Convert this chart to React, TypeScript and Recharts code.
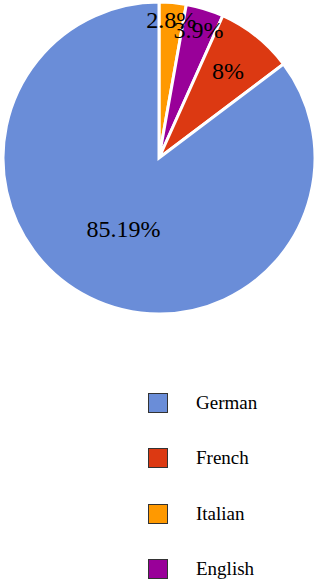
import * as React from "react";
import { PieChart, Pie, Cell } from "recharts";

// legend order
const languages = ["German", "French", "Italian", "English"];
const shares = [85.19, 8, 2.8, 3.9];
const colors = ["#6a8dd8", "#dc3912", "#ff9900", "#990099"];

// order of the wedges going clockwise from 12 o'clock
const pieOrder = ["Italian", "English", "French", "German"];

const labelDist: Record<string, number> = {
  German: 0.51,
  French: 0.71,
  Italian: 0.89,
  English: 0.86,
};

const RADIAN = Math.PI / 180;
const FONT = "'Liberation Serif', 'DejaVu Serif', serif";

const pieData = pieOrder.map((name) => {
  const i = languages.indexOf(name);
  return { name, value: shares[i], color: colors[i] };
});

function renderLabel(props: any) {
  const { cx, cy, midAngle, outerRadius, name, value } = props;
  const r = outerRadius * (labelDist[name] ?? 0.6);
  const x = cx + r * Math.cos(-midAngle * RADIAN);
  const y = cy + r * Math.sin(-midAngle * RADIAN);
  return (
    <text
      x={x}
      y={y}
      fill="#000"
      textAnchor="middle"
      dominantBaseline="central"
      fontFamily={FONT}
      fontSize={24}
    >
      {`${value}%`}
    </text>
  );
}

function LegendBox() {
  return (
    <div
      style={{
        position: "absolute",
        left: 148,
        top: 375,
        fontFamily: FONT,
        fontSize: 19,
        color: "#000",
      }}
    >
      {languages.map((lang, i) => (
        <div
          key={lang}
          style={{ display: "flex", alignItems: "center", height: 55.5 }}
        >
          <span
            style={{
              display: "inline-block",
              width: 18,
              height: 18,
              background: colors[i],
              border: "1px solid #333",
              marginRight: 28,
            }}
          />
          <span>{lang}</span>
        </div>
      ))}
    </div>
  );
}

export default function App() {
  return (
    <div style={{ position: "absolute", left: 0, top: 0, width: 314, height: 580 }}>
      <PieChart
        width={314}
        height={580}
        margin={{ top: 0, right: 0, bottom: 0, left: 0 }}
      >
        <Pie
          data={pieData}
          dataKey="value"
          nameKey="name"
          cx={159}
          cy={158}
          outerRadius={156}
          startAngle={90}
          endAngle={-270}
          stroke="#fff"
          strokeWidth={3}
          label={renderLabel}
          labelLine={false}
          isAnimationActive={false}
        >
          {pieData.map((d) => (
            <Cell key={d.name} fill={d.color} />
          ))}
        </Pie>
      </PieChart>
      <LegendBox />
    </div>
  );
}
